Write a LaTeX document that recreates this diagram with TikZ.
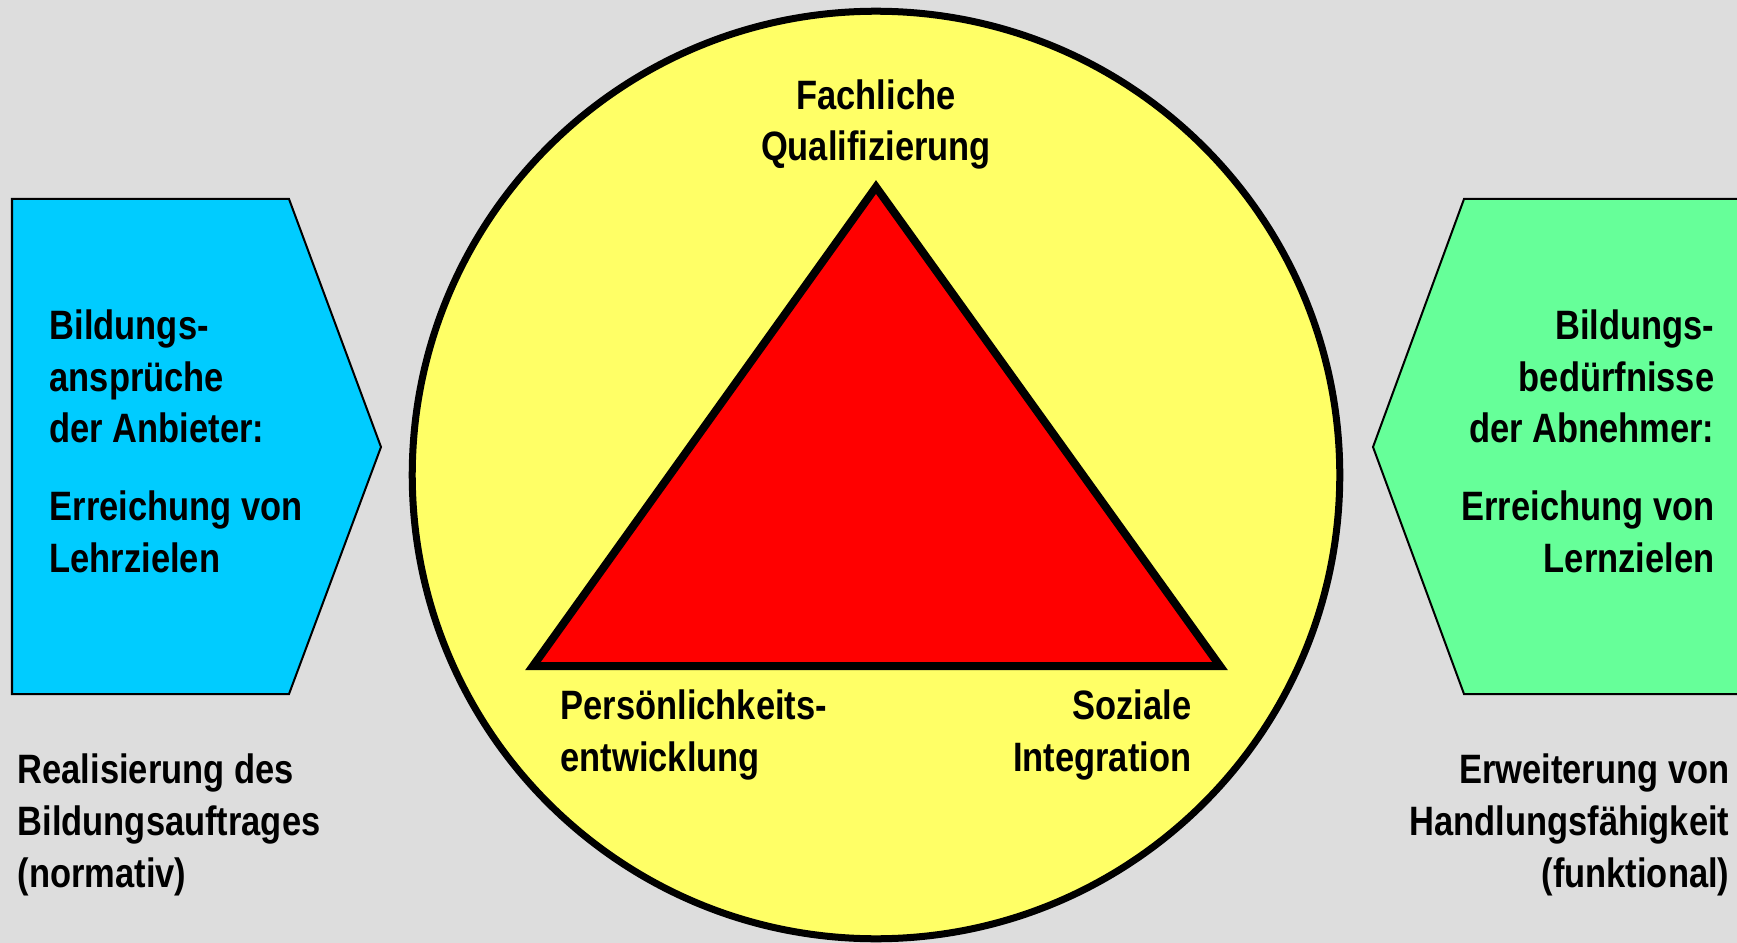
\documentclass[tikz,border=0pt]{standalone}
\usepackage{fontspec}
\setmainfont{Liberation Sans}[FakeStretch=0.84]
\usepackage{tikz}
\usetikzlibrary{shapes,positioning,calc}
\definecolor{grau}{RGB}{221,221,221}
\definecolor{blau}{RGB}{0,204,255}
\definecolor{gruen}{RGB}{102,255,153}
\definecolor{gelb}{RGB}{255,255,102}
\definecolor{rot}{RGB}{255,0,0}
\tikzstyle{testo} = [font=\bfseries\fontsize{11.67pt}{14.68pt}\selectfont, inner sep=0pt, text=black]
\tikzstyle{pfeil} = [draw=black, line width=0.02cm]
\tikzstyle{kreis} = [circle, draw=black, line width=0.07cm, fill=gelb, minimum size=9.27cm, inner sep=0pt]
\tikzstyle{dreieck} = [draw=black, line width=0.08cm, fill=rot, miter limit=10]

\begin{document}
\begin{tikzpicture}[x=0.01cm,y=-0.01cm]
	\fill[grau] (0,0) rectangle (1737,943);
	\useasboundingbox (0,0) rectangle (1737,943);
	\clip (0,0) rectangle (1737,943);
	\draw[pfeil, fill=blau] (12,199) -- (289,199) -- (381,447) -- (289,694) -- (12,694) -- cycle;
	\draw[pfeil, fill=gruen] (1760,199) -- (1464,199) -- (1373,447) -- (1464,694) -- (1760,694) -- cycle;
	\node (k) at (876,475) [kreis] {};
	\coordinate (s) at (876,187);
	\coordinate (l) at (533,666);
	\coordinate (r) at (1220,666);
	\draw[dreieck] (s) -- (l) -- (r) -- cycle;
	\node (fq) at (876,161) [testo, anchor=base, align=center] {Fachliche\\Qualifizierung};
	\node (pe) at (560,771) [testo, anchor=base west, align=left] {Persönlichkeits-\\entwicklung};
	\node (si) at (1192,771) [testo, anchor=base east, align=right] {Soziale\\Integration};
	\node (an) at (49,572) [testo, anchor=base west, align=left] {Bildungs-\\ansprüche\\der Anbieter:\\[0.26cm]Erreichung von\\Lehrzielen};
	\node (ab) at (1715,572) [testo, anchor=base east, align=right] {Bildungs-\\bedürfnisse\\der Abnehmer:\\[0.26cm]Erreichung von\\Lernzielen};
	\node (no) at (17,887) [testo, anchor=base west, align=left] {Realisierung des\\Bildungsauftrages\\(normativ)};
	\node (fu) at (1730,887) [testo, anchor=base east, align=right] {Erweiterung von\\Handlungsfähigkeit\\(funktional)};
\end{tikzpicture}
\end{document}
